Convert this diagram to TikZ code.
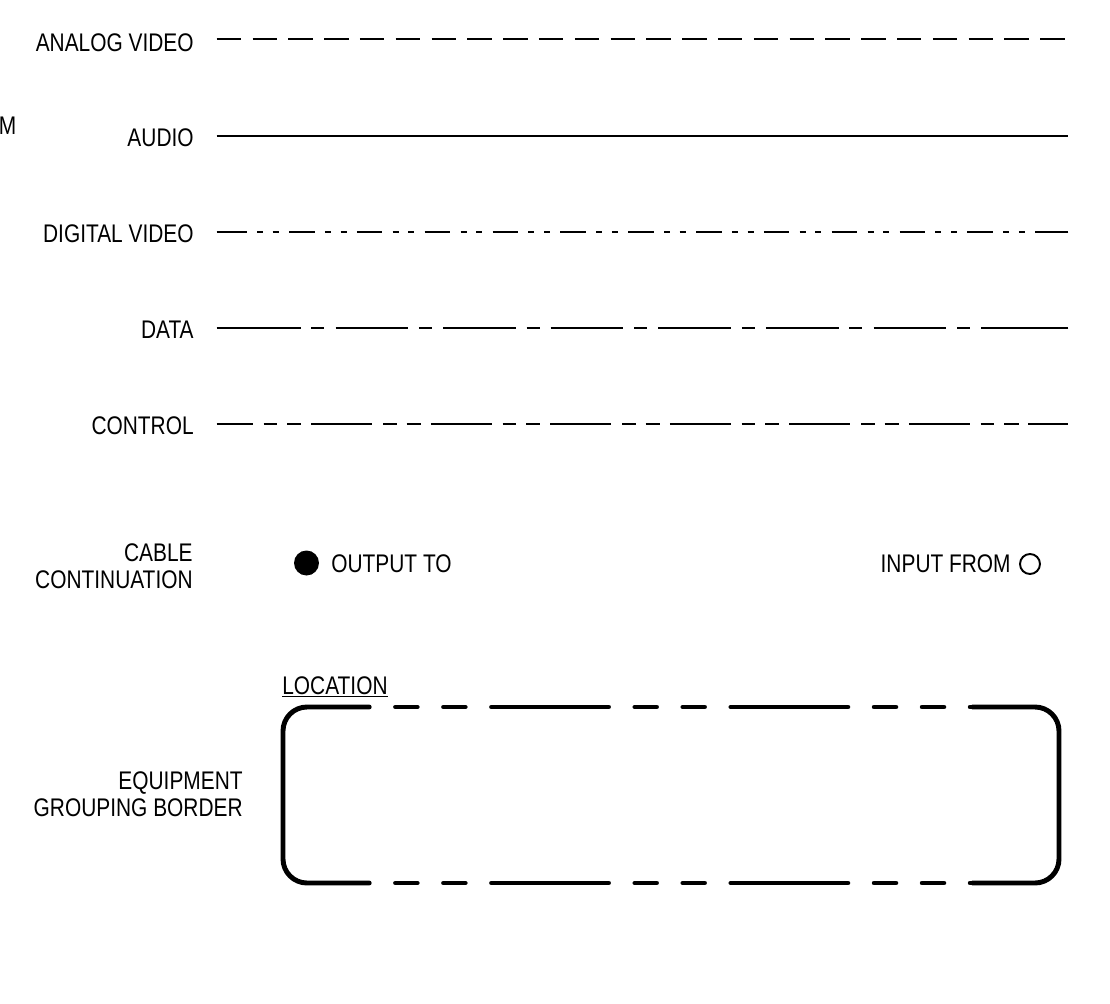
\documentclass[tikz,border=0pt]{standalone}
\usepackage{fontspec}
\setmainfont{Liberation Sans}[FakeStretch=0.82]
\begin{document}
\begin{tikzpicture}[x=0.02cm,y=-0.02cm]

\tikzstyle{legendtext}=[inner sep=0pt, align=right,
    font=\fontsize{14.5}{15.1}\selectfont]
\tikzstyle{sample}=[line width=1.1pt]
\tikzstyle{border}=[line width=2.8pt, line cap=round, rounded corners=0.48cm]

\useasboundingbox (0,0) rectangle (1110,1004);

  \node[legendtext, anchor=west] (stray) at (-1.5,126) {M};

  % line types
  \node[legendtext, anchor=east] (analogVideo) at (194,42.5) {ANALOG VIDEO};
  \node[legendtext, anchor=east] (audio) at (194,137.5) {AUDIO};
  \node[legendtext, anchor=east] (digitalVideo) at (194,233.5) {DIGITAL VIDEO};
  \node[legendtext, anchor=east] (data) at (194,329.5) {DATA};
  \node[legendtext, anchor=east] (control) at (194,425.5) {CONTROL};

  \coordinate (analogStart) at (216.7,39.3);
  \coordinate (analogEnd) at (1068.3,39.3);
  \coordinate (audioStart) at (216.7,136);
  \coordinate (audioEnd) at (1068.3,136);
  \coordinate (digitalStart) at (216.7,232);
  \coordinate (digitalEnd) at (1068.3,232);
  \coordinate (dataStart) at (216.7,327.7);
  \coordinate (dataEnd) at (1068.3,327.7);
  \coordinate (controlStart) at (216.7,424);
  \coordinate (controlEnd) at (1068.3,424);

  \draw[sample, dash pattern=on 13.89pt off 6.49pt] (analogStart) -- (analogEnd);

  \draw[sample] (audioStart) -- (audioEnd);

  \draw[sample, dash pattern=on 14.57pt off 5.84pt on 3.4pt off 5.5pt on 3.4pt off 5.9pt,
    dash phase=36.05pt] (digitalStart) -- (digitalEnd);
  \draw[sample] (digitalStart) -- ++(30,0) (digitalEnd) -- ++(-30,0);

  \draw[sample, dash pattern=on 41.38pt off 6.12pt on 7.37pt off 6.38pt,
    dash phase=54.88pt] (dataStart) -- (dataEnd);
  \draw[sample] (dataStart) -- ++(84.3,0) (dataEnd) -- ++(-84,0);

  \draw[sample, dash pattern=on 34.75pt off 6.07pt on 7.71pt off 5.67pt on 8.16pt off 5.67pt,
    dash phase=14.17pt] (controlStart) -- (controlEnd);

  % cable continuation
  \node[legendtext, anchor=east] (cableContinuation) at (193,566) {CABLE\\CONTINUATION};

  \node[circle, fill, inner sep=0pt, minimum size=0.5cm] (outputDot) at (306.5,563) {};
  \node[legendtext, anchor=west] (outputTo) at (331,564) {OUTPUT TO};

  \node[circle, draw, line width=1.1pt, inner sep=0pt, minimum size=0.4cm] (inputDot) at (1030,564) {};
  \node[legendtext, anchor=east] (inputFrom) at (1011,564) {INPUT FROM};

  % equipment grouping border
  \node[legendtext, anchor=east] (groupingBorder) at (243,794) {EQUIPMENT\\GROUPING BORDER};
  \node[legendtext, anchor=base west] (location) at (282,694) {\underline{LOCATION}};

  \coordinate (borderNW) at (283,707);
  \coordinate (borderSE) at (1059,883);
  \coordinate (topLeft) at (369.2,707);
  \coordinate (topRight) at (972.7,707);
  \coordinate (bottomLeft) at (369.2,883);
  \coordinate (bottomRight) at (972.7,883);

  \draw[border] (topLeft) -| (borderNW |- bottomLeft) -- (bottomLeft);
  \draw[border] (topRight) -| (borderSE) -- (bottomRight);
  \draw[border, dash pattern=on 12.3pt off 15.02pt on 12.3pt off 15.02pt on 66.55pt off 15.02pt,
    dash phase=121.19pt] (topLeft) -- (topRight);
  \draw[border, dash pattern=on 12.3pt off 15.02pt on 12.3pt off 15.02pt on 66.55pt off 15.02pt,
    dash phase=121.19pt] (bottomLeft) -- (bottomRight);

\end{tikzpicture}
\end{document}
